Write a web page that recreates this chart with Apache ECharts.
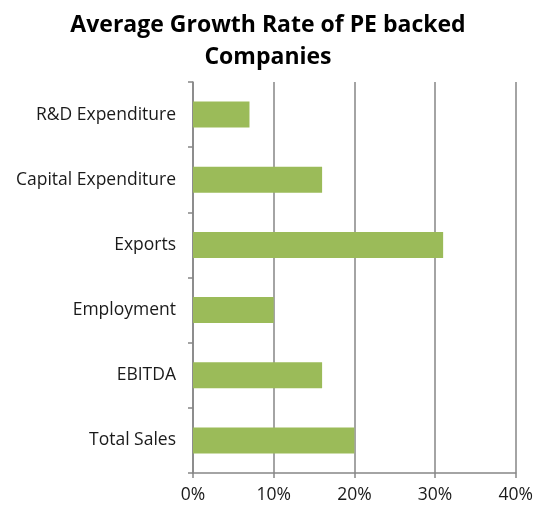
<!DOCTYPE html>
<html><head><meta charset="utf-8">
<script src="https://cdn.jsdelivr.net/npm/echarts@6/dist/echarts.min.js"></script>
<style>html,body{margin:0;padding:0;background:#fff}#c{width:536px;height:511px}</style>
</head><body><div id="c"></div>
<script>
const titleText = 'Average Growth Rate of PE backed\nCompanies';
const categories = ['Total Sales','EBITDA','Employment','Exports','Capital Expenditure','R&D Expenditure'];
const growthValues = [20, 16, 10, 31, 16, 7];
const xTicks = {min: 0, max: 40, interval: 10};

const chart = echarts.init(document.getElementById('c'), null, {renderer: 'canvas'});
chart.setOption({
  animation: false,
  title: {
    text: titleText, left: 'center', top: 4,
    textStyle: {fontFamily: 'Open Sans', fontWeight: 'bold', fontSize: 23, lineHeight: 32, color: '#000'}
  },
  grid: {left: 193, right: 19, top: 82, bottom: 38, containLabel: false},
  xAxis: {
    type: 'value', min: xTicks.min, max: xTicks.max, interval: xTicks.interval,
    axisLine: {show: true, lineStyle: {color: '#868686', width: 1.5}},
    axisTick: {show: true, length: 5, lineStyle: {color: '#868686', width: 1.5}},
    splitLine: {show: true, lineStyle: {color: '#868686', width: 1.5}},
    axisLabel: {formatter: '{value}%', fontFamily: 'Open Sans', fontSize: 17.5, color: '#1a1a1a', margin: 13}
  },
  yAxis: {
    type: 'category', data: categories,
    axisLine: {show: true, lineStyle: {color: '#868686', width: 1.5}},
    axisTick: {show: true, length: 5, lineStyle: {color: '#868686', width: 1.5}},
    axisLabel: {fontFamily: 'Open Sans', fontSize: 17.5, color: '#1a1a1a', margin: 17}
  },
  series: [{
    type: 'bar', data: growthValues, barCategoryGap: '60%',
    itemStyle: {color: '#9BBB59'}
  }]
});
</script></body></html>
